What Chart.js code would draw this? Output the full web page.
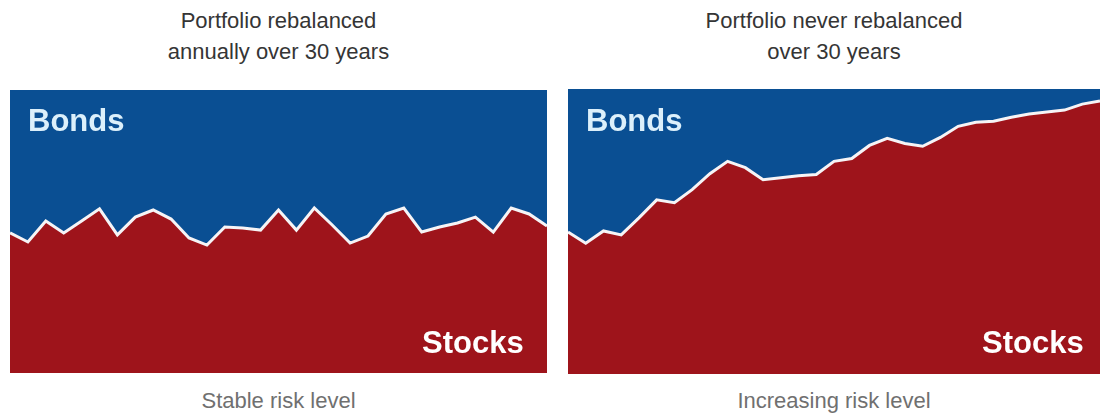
<!DOCTYPE html>
<html>
<head>
<meta charset="utf-8">
<script src="https://cdn.jsdelivr.net/npm/chart.js@4.4.1/dist/chart.umd.min.js"></script>
<style>
  body { margin: 0; background: #ffffff; width: 1100px; height: 419px; overflow: hidden; position: relative; font-family: "Liberation Sans", Arial, sans-serif; }
  canvas { position: absolute; }
  .title { position: absolute; text-align: center; color: #353535; font-size: 22px; line-height: 31px; }
  .caption { position: absolute; text-align: center; color: #707070; font-size: 22px; }
  .label { position: absolute; font-weight: bold; font-size: 31px; }
  .bonds { color: #dcf0fb; }
  .stocks { color: #ffffff; }
</style>
</head>
<body>
<div class="title" style="left:10px; width:537px; top:5px;">Portfolio rebalanced<br>annually over 30 years</div>
<div class="title" style="left:568px; width:532px; top:5px;">Portfolio never rebalanced<br>over 30 years</div>

<canvas id="leftChart" width="537" height="283" style="left:10px; top:90px;"></canvas>
<canvas id="rightChart" width="532" height="285" style="left:568px; top:89px;"></canvas>

<div class="label bonds" style="left:28px; top:103px;">Bonds</div>
<div class="label stocks" style="left:422px; top:325px;">Stocks</div>
<div class="label bonds" style="left:586px; top:103px;">Bonds</div>
<div class="label stocks" style="left:982px; top:325px;">Stocks</div>

<div class="caption" style="left:10px; width:537px; top:388px;">Stable risk level</div>
<div class="caption" style="left:568px; width:532px; top:388px;">Increasing risk level</div>

<script>
// years 0..30
const years = [0,1,2,3,4,5,6,7,8,9,10,11,12,13,14,15,16,17,18,19,20,21,22,23,24,25,26,27,28,29,30];

// stock share (%) - rebalanced every year
const stocksRebalanced = [49.5,46.3,53.7,49.5,53.7,58.0,48.8,55.1,57.6,54.4,47.7,45.2,51.6,51.2,50.5,57.6,
  50.5,58.3,52.3,45.9,48.4,56.2,58.3,49.8,51.6,53.0,55.1,49.8,58.3,56.2,51.9];

// stock share (%) - never rebalanced
const stocksNever = [49.8,45.9,50.2,48.8,54.8,61.1,60.1,64.7,70.3,74.6,72.4,68.2,68.9,69.6,70.0,74.6,
  75.6,80.2,82.7,80.9,79.9,83.0,86.9,88.3,88.7,90.1,91.2,91.9,92.6,94.7,95.8];

const seriesNames = ['Stocks', 'Bonds'];

const stockRed = '#9e141b';
const bondBlue = '#0a4f93';

// stacked area chart: stocks on the bottom, bonds fill up to 100%
function makeChart(id, stocks) {
  const bonds = stocks.map(v => 100 - v);
  return new Chart(document.getElementById(id), {
    type: 'line',
    data: {
      labels: years,
      datasets: [
        {
          label: seriesNames[0],
          data: stocks,
          fill: 'origin',
          backgroundColor: stockRed,
          borderColor: '#f6f4f6',
          borderWidth: 3,
          pointRadius: 0,
          tension: 0,
          order: 0
        },
        {
          label: seriesNames[1],
          data: bonds,
          fill: '-1',
          backgroundColor: bondBlue,
          borderWidth: 0,
          pointRadius: 0,
          tension: 0,
          order: 1
        }
      ]
    },
    options: {
      responsive: false,
      animation: false,
      layout: { padding: 0 },
      plugins: { legend: { display: false }, tooltip: { enabled: false } },
      scales: {
        x: { type: 'linear', min: 0, max: 30, display: false },
        y: { stacked: true, min: 0, max: 100, display: false }
      }
    }
  });
}

makeChart('leftChart', stocksRebalanced);
makeChart('rightChart', stocksNever);
</script>
</body>
</html>
